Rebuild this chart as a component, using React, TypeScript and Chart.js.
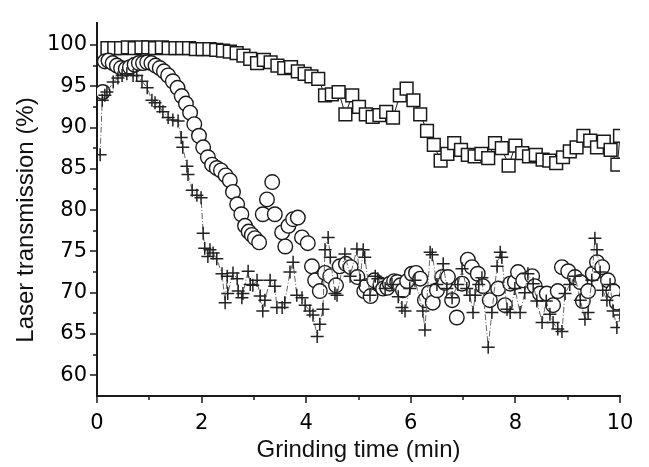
import { useEffect, useRef } from "react";
import { Chart, registerables } from "chart.js";

Chart.register(...registerables);

// ---- data ----
const squareTimes = [0.20, 0.33, 0.46, 0.59, 0.72, 0.85, 0.98, 1.11, 1.24, 1.37, 1.50, 1.63, 1.76, 1.89, 2.02, 2.15, 2.28, 2.41, 2.54, 2.67, 2.80, 2.93, 3.06, 3.19, 3.32, 3.45, 3.58, 3.71, 3.84, 3.97, 4.10, 4.23, 4.36, 4.49, 4.62, 4.75, 4.88, 5.01, 5.14, 5.27, 5.40, 5.53, 5.66, 5.79, 5.92, 6.05, 6.18, 6.31, 6.44, 6.57, 6.70, 6.83, 6.96, 7.09, 7.22, 7.35, 7.48, 7.61, 7.74, 7.87, 8.00, 8.13, 8.26, 8.39, 8.52, 8.65, 8.78, 8.91, 9.04, 9.17, 9.30, 9.43, 9.56, 9.69, 9.82, 9.95, 10.0];
const squareValues = [99.6, 99.6, 99.6, 99.7, 99.6, 99.7, 99.7, 99.6, 99.7, 99.6, 99.6, 99.6, 99.6, 99.5, 99.5, 99.5, 99.4, 99.3, 99.2, 99.0, 98.7, 98.3, 97.8, 98.2, 97.9, 97.5, 97.2, 97.3, 96.8, 96.5, 96.2, 95.9, 93.9, 94.0, 94.3, 91.6, 93.9, 92.5, 91.6, 91.3, 91.5, 91.9, 91.2, 93.9, 94.7, 93.3, 91.6, 89.6, 87.9, 86.0, 86.8, 88.1, 87.3, 86.7, 86.5, 86.8, 86.3, 88.1, 87.5, 85.4, 87.8, 86.9, 86.5, 86.7, 86.1, 86.0, 85.7, 86.4, 87.1, 87.6, 89.0, 88.4, 87.6, 88.3, 87.3, 85.5, 89.0];

const circleTimes = [0.11, 0.15, 0.22, 0.30, 0.38, 0.46, 0.55, 0.63, 0.72, 0.80, 0.88, 0.96, 1.04, 1.12, 1.20, 1.28, 1.36, 1.45, 1.54, 1.62, 1.70, 1.78, 1.86, 1.95, 2.03, 2.12, 2.20, 2.29, 2.37, 2.46, 2.54, 2.60, 2.68, 2.76, 2.83, 2.90, 2.96, 3.02, 3.10, 3.17, 3.25, 3.35, 3.40, 3.54, 3.60, 3.66, 3.75, 3.84, 3.92, 4.03, 4.11, 4.17, 4.26, 4.36, 4.46, 4.57, 4.64, 4.76, 4.85, 4.98, 5.11, 5.15, 5.23, 5.30, 5.42, 5.47, 5.55, 5.60, 5.68, 5.74, 5.80, 5.85, 5.93, 6.02, 6.10, 6.18, 6.27, 6.35, 6.42, 6.50, 6.60, 6.65, 6.71, 6.79, 6.88, 6.98, 7.09, 7.17, 7.28, 7.38, 7.51, 7.67, 7.80, 7.90, 7.99, 8.05, 8.15, 8.32, 8.37, 8.47, 8.60, 8.72, 8.81, 8.89, 9.01, 9.14, 9.24, 9.29, 9.39, 9.48, 9.56, 9.66, 9.77, 9.87, 9.94];
const circleValues = [94.3, 98.0, 98.1, 97.8, 97.5, 97.2, 97.1, 97.3, 97.6, 97.8, 97.8, 97.9, 97.8, 97.5, 97.2, 96.8, 96.3, 95.6, 94.8, 93.8, 92.9, 91.8, 90.4, 89.0, 87.6, 86.4, 85.5, 85.1, 84.8, 84.2, 83.6, 82.2, 80.7, 79.5, 78.1, 77.4, 77.0, 76.6, 76.1, 79.5, 81.3, 83.4, 79.5, 77.3, 75.6, 78.1, 78.9, 79.1, 76.7, 76.0, 73.2, 71.5, 70.2, 72.4, 72.0, 70.9, 73.2, 73.5, 73.1, 71.9, 70.2, 70.8, 69.6, 71.5, 71.0, 70.5, 70.6, 71.1, 71.4, 71.3, 70.9, 70.3, 71.4, 72.3, 72.4, 71.7, 69.1, 70.0, 68.8, 70.3, 71.9, 71.2, 71.9, 69.1, 67.0, 71.1, 74.0, 73.1, 72.3, 70.8, 69.1, 70.5, 68.5, 71.1, 71.3, 72.5, 71.5, 72.0, 70.8, 69.9, 69.9, 68.5, 70.2, 73.1, 72.6, 71.9, 71.3, 69.0, 70.2, 72.3, 73.7, 73.1, 71.5, 70.2, 68.8];

const crossTimes = [0.06, 0.10, 0.15, 0.19, 0.31, 0.40, 0.48, 0.57, 0.69, 0.76, 0.86, 0.96, 1.05, 1.11, 1.20, 1.26, 1.36, 1.45, 1.55, 1.61, 1.64, 1.72, 1.74, 1.82, 1.91, 1.99, 2.03, 2.06, 2.12, 2.16, 2.22, 2.29, 2.39, 2.45, 2.49, 2.50, 2.60, 2.68, 2.70, 2.77, 2.79, 2.89, 2.93, 2.98, 3.06, 3.12, 3.17, 3.21, 3.31, 3.40, 3.44, 3.54, 3.59, 3.69, 3.75, 3.82, 3.92, 3.98, 4.07, 4.13, 4.21, 4.26, 4.32, 4.36, 4.42, 4.46, 4.55, 4.59, 4.74, 4.84, 4.97, 5.03, 5.09, 5.12, 5.22, 5.32, 5.37, 5.51, 5.64, 5.76, 5.83, 5.89, 5.98, 6.08, 6.23, 6.27, 6.37, 6.41, 6.50, 6.62, 6.69, 6.79, 6.90, 6.98, 7.07, 7.13, 7.19, 7.23, 7.30, 7.36, 7.48, 7.55, 7.65, 7.71, 7.74, 7.84, 7.90, 7.99, 8.09, 8.18, 8.24, 8.34, 8.41, 8.51, 8.59, 8.66, 8.72, 8.81, 8.89, 8.95, 9.04, 9.14, 9.24, 9.33, 9.39, 9.46, 9.52, 9.56, 9.62, 9.67, 9.75, 9.81, 9.87, 9.94, 10.0];
const crossValues = [86.7, 93.3, 93.9, 94.3, 95.5, 96.0, 96.3, 96.5, 96.3, 96.3, 95.6, 94.8, 93.3, 93.0, 92.5, 91.9, 91.2, 90.9, 90.8, 88.8, 87.6, 85.3, 84.3, 82.4, 81.8, 81.5, 77.2, 75.4, 74.4, 75.2, 74.8, 74.1, 72.3, 68.8, 72.0, 69.9, 72.4, 71.7, 70.2, 69.4, 69.9, 72.6, 71.0, 70.9, 71.5, 69.6, 67.8, 69.1, 71.5, 70.8, 68.2, 68.2, 68.8, 72.5, 73.7, 69.7, 69.4, 68.5, 67.8, 67.3, 64.7, 66.2, 68.0, 75.2, 76.7, 74.3, 69.9, 69.7, 74.7, 72.0, 75.3, 71.5, 75.2, 74.3, 69.7, 72.0, 71.7, 70.5, 71.0, 69.5, 68.2, 67.8, 70.5, 71.5, 67.8, 65.5, 74.9, 74.6, 71.0, 73.5, 70.5, 69.4, 71.0, 72.9, 70.5, 69.7, 67.6, 69.7, 71.0, 71.8, 63.4, 67.6, 73.2, 74.9, 74.3, 68.0, 67.6, 70.5, 67.6, 70.0, 72.3, 71.1, 69.0, 66.4, 69.0, 67.4, 66.4, 65.6, 65.3, 69.9, 71.0, 72.0, 69.1, 66.8, 67.6, 71.5, 76.6, 75.2, 72.5, 70.3, 69.1, 71.0, 67.8, 65.8, 67.3];

const xMajorTicks = [0, 2, 4, 6, 8, 10];
const xMinorTicks = [1, 3, 5, 7, 9];
const yMajorTicks = [60, 65, 70, 75, 80, 85, 90, 95, 100];
const yMinorTicks = [62.5, 67.5, 72.5, 77.5, 82.5, 87.5, 92.5, 97.5];

const xTitle = "Grinding time (min)";
const yTitle = "Laser transmission (%)";

function pairs(t: number[], v: number[]) {
  return t.map((x, i) => ({ x, y: v[i] }));
}

const axisPlugin = {
  id: "axisDecor",
  afterDraw(chart: any) {
    const ctx = chart.ctx;
    const xs = chart.scales.x;
    const ys = chart.scales.y;
    const area = chart.chartArea;
    ctx.save();
    ctx.strokeStyle = "#1a1a1a";
    ctx.lineWidth = 1.5;
    ctx.beginPath();
    for (const v of xMajorTicks) {
      const px = Math.round(xs.getPixelForValue(v));
      ctx.moveTo(px, area.bottom);
      ctx.lineTo(px, area.bottom + 7);
    }
    for (const v of xMinorTicks) {
      const px = Math.round(xs.getPixelForValue(v));
      ctx.moveTo(px, area.bottom);
      ctx.lineTo(px, area.bottom + 4);
    }
    for (const v of yMajorTicks) {
      const py = Math.round(ys.getPixelForValue(v));
      ctx.moveTo(area.left, py);
      ctx.lineTo(area.left - 7, py);
    }
    for (const v of yMinorTicks) {
      const py = Math.round(ys.getPixelForValue(v));
      ctx.moveTo(area.left, py);
      ctx.lineTo(area.left - 4, py);
    }
    ctx.stroke();

    ctx.fillStyle = "#111";
    ctx.font = '24px "Liberation Sans", Arial, sans-serif';
    ctx.textAlign = "center";
    ctx.textBaseline = "alphabetic";
    ctx.fillText(xTitle, (area.left + area.right) / 2, 457);
    ctx.translate(33, 220);
    ctx.rotate(-Math.PI / 2);
    ctx.fillText(yTitle, 0, 0);
    ctx.restore();
  },
};

export default function App() {
  const ref = useRef<HTMLCanvasElement | null>(null);
  useEffect(() => {
    if (!ref.current) return;
    const chart = new Chart(ref.current, {
      type: "scatter",
      data: {
        datasets: [
          {
            label: "cross",
            data: pairs(crossTimes, crossValues),
            showLine: true,
            borderColor: "#666",
            borderWidth: 1,
            borderDash: [6, 2, 1, 2],
            pointStyle: "cross",
            pointRadius: 6.5,
            pointBorderColor: "#222",
            pointBorderWidth: 1.5,
            pointBackgroundColor: "#222",
          } as any,
          {
            label: "circle",
            data: pairs(circleTimes, circleValues),
            showLine: false,
            pointStyle: "circle",
            pointRadius: 7.3,
            pointBorderColor: "#1a1a1a",
            pointBorderWidth: 1.4,
            pointBackgroundColor: "#ffffff",
          } as any,
          {
            label: "square",
            data: pairs(squareTimes, squareValues),
            showLine: true,
            borderColor: "#1a1a1a",
            borderWidth: 1,
            pointStyle: "rect",
            pointRadius: 9,
            pointBorderColor: "#1a1a1a",
            pointBorderWidth: 1.5,
            pointBackgroundColor: "#ffffff",
          } as any,
        ],
      },
      options: {
        animation: false,
        responsive: false,
        devicePixelRatio: 1,
        layout: { padding: { top: 10, right: 29, left: 0, bottom: 0 } },
        plugins: { legend: { display: false }, tooltip: { enabled: false } },
        scales: {
          x: {
            type: "linear",
            min: 0,
            max: 10,
            afterBuildTicks: (s: any) => {
              s.ticks = xMajorTicks.map((v) => ({ value: v }));
            },
            afterFit: (s: any) => {
              s.height = 71;
            },
            grid: { display: false, drawTicks: false },
            border: { display: true, color: "#1a1a1a", width: 2 },
            ticks: {
              padding: 15,
              color: "#000",
              font: { family: '"DejaVu Sans", sans-serif', size: 21 },
              maxRotation: 0,
            },
          },
          y: {
            type: "linear",
            min: 57.5,
            max: 102.7,
            afterBuildTicks: (s: any) => {
              s.ticks = yMajorTicks.map((v) => ({ value: v }));
            },
            afterFit: (s: any) => {
              s.width = 97;
            },
            grid: { display: false, drawTicks: false },
            border: { display: true, color: "#1a1a1a", width: 2 },
            ticks: {
              padding: 10,
              color: "#000",
              font: { family: '"DejaVu Sans", sans-serif', size: 21 },
            },
          },
        },
      },
      plugins: [axisPlugin],
    });
    return () => chart.destroy();
  }, []);
  return (
    <div style={{ position: "fixed", left: 0, top: 0, width: 649, height: 467, background: "#fff" }}>
      <canvas ref={ref} width={649} height={467} style={{ width: 649, height: 467, display: "block" }} />
    </div>
  );
}
